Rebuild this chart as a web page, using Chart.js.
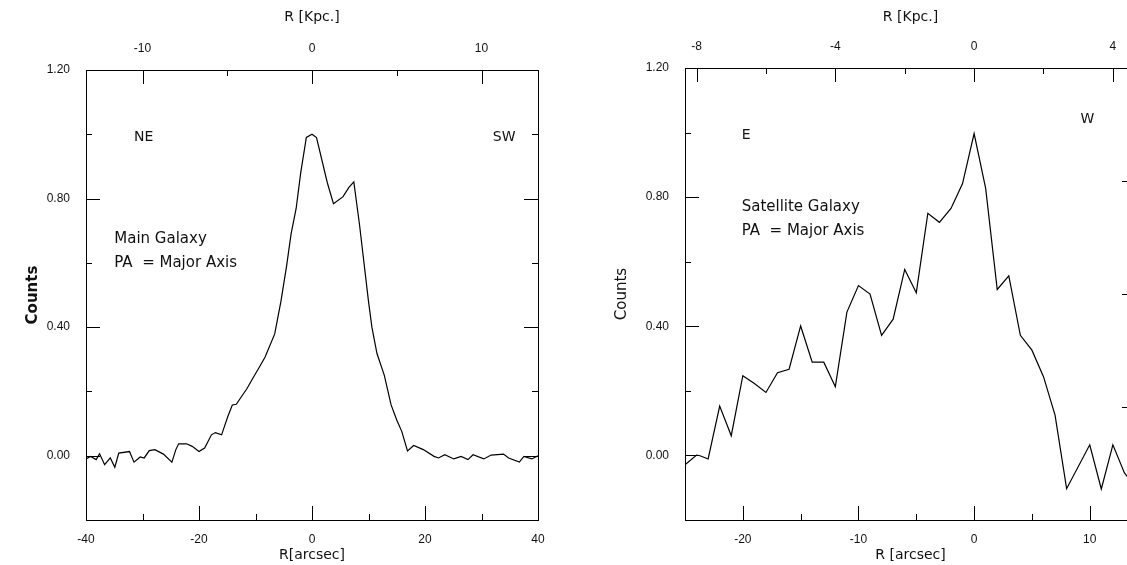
<!DOCTYPE html>
<html>
<head>
<meta charset="utf-8">
<script src="https://cdn.jsdelivr.net/npm/chart.js@4.4.1/dist/chart.umd.min.js"></script>
<style>
  html, body { margin: 0; padding: 0; background: #fff; overflow: hidden; width: 1127px; height: 565px; }
  .panel { position: absolute; top: 0; height: 565px; }
  #mainBox { left: 0; width: 560px; }
  #satBox { left: 580px; width: 600px; }
</style>
</head>
<body>
<div class="panel" id="mainBox"><canvas id="mainChart"></canvas></div>
<div class="panel" id="satBox"><canvas id="satChart"></canvas></div>
<script>
// main galaxy, cut along the major axis (R in arcsec, normalised counts)
const mainR = [-40, -39.2, -38.2, -37.6, -36.7, -35.7, -34.9, -34.2, -32.3, -31.5, -30.4, -29.7,
  -28.8, -27.8, -26.3, -24.8, -24.1, -23.6, -22.2, -21.2, -20.0, -19.0, -17.8, -17.1, -16.0,
  -14.9, -14.1, -13.4, -11.5, -10.5, -9.3, -8.3, -6.6, -5.5, -4.5, -3.7, -2.8, -2.0, -1.0,
  0, 0.8, 2.7, 3.8, 5.5, 6.5, 7.4, 8.4, 10.0, 10.6, 11.5, 12.8, 14.0, 15.0, 15.9, 16.9, 18.0,
  19.7, 21.6, 22.4, 23.5, 25.1, 26.4, 27.6, 28.5, 30.4, 31.7, 33.9, 34.8, 36.7, 37.5, 38.9, 40];
const mainCounts = [-0.01, -0.002, -0.012, 0.006, -0.028, -0.007, -0.036, 0.008, 0.013, -0.02, -0.004, -0.007,
  0.016, 0.019, 0.005, -0.02, 0.019, 0.037, 0.037, 0.029, 0.013, 0.024, 0.065, 0.072, 0.065,
  0.122, 0.158, 0.16, 0.209, 0.24, 0.276, 0.307, 0.379, 0.48, 0.59, 0.69, 0.77, 0.88, 0.99,
  1.0, 0.99, 0.85, 0.784, 0.806, 0.834, 0.852, 0.72, 0.48, 0.40, 0.318, 0.25, 0.158, 0.111, 0.075, 0.015, 0.032,
  0.019, -0.002, -0.007, 0.003, -0.01, -0.002, -0.012, 0.003, -0.01, 0.002, 0.005, -0.007, -0.02, -0.002, -0.01, 0.0];

// satellite galaxy, cut along its major axis
const satR = [-25, -24, -23.7, -23, -22, -21, -20, -19, -18, -17, -16, -15, -14, -13, -12, -11,
  -10, -9, -8, -7, -6, -5, -4, -3, -2, -1, 0, 1, 2, 3, 4, 5, 6, 7, 8, 10, 11, 12, 13, 14];
const satCounts = [-0.029, 0.001, -0.001, -0.011, 0.153, 0.061, 0.247, 0.223, 0.195, 0.256, 0.267, 0.401,
  0.289, 0.289, 0.213, 0.444, 0.526, 0.5, 0.372, 0.422, 0.576, 0.504, 0.75, 0.722, 0.765, 0.842,
  0.997, 0.827, 0.514, 0.556, 0.372, 0.326, 0.244, 0.125, -0.103, 0.033, -0.104, 0.033, -0.054, -0.1];

const arcsecPerKpc = 3.0;

// tick lists
const countTicks = [-0.2, 0, 0.2, 0.4, 0.6, 0.8, 1.0, 1.2];
const countLabels = [0, 0.4, 0.8, 1.2];
const countMajor = [-0.2, 0, 0.4, 0.8, 1.2];

const mainArcTicks = [-40, -30, -20, -10, 0, 10, 20, 30, 40];
const mainArcLabels = [-40, -20, 0, 20, 40];
const mainArcMajor = [-40, -20, 0, 20, 40];
const mainKpcTicks = [-10, -5, 0, 5, 10];
const mainKpcLabels = [-10, 0, 10];

const satArcTicks = [-25, -20, -15, -10, -5, 0, 5, 10];
const satArcLabels = [-20, -10, 0, 10];
const satArcMajor = [-25, -20, -10, 0, 10];
const satKpcTicks = [-8, -6, -4, -2, 0, 2, 4];
const satKpcLabels = [-8, -4, 0, 4];
const satRightTicks = [-0.2, 0.15, 0.5, 0.85, 1.2];

const tickFont = { family: 'Liberation Sans', size: 12 };
const titleFont = { family: 'DejaVu Sans', size: 14 };

function axis(o) {
  const horiz = o.position === 'top' || o.position === 'bottom';
  return {
    type: 'linear',
    position: o.position,
    min: o.min,
    max: o.max,
    afterBuildTicks: s => {
      s.ticks = o.ticks.map(v => ({ value: v, major: o.major.includes(v) }));
    },
    afterFit: s => {
      if (horiz) s.height = o.size; else s.width = o.size;
    },
    grid: { display: false },
    border: { display: true, color: '#000', width: 1 },
    ticks: {
      autoSkip: false,
      maxRotation: 0,
      padding: o.pad,
      color: '#111',
      font: tickFont,
      display: !!o.labels,
      callback: v => (o.labels && o.labels.includes(v)) ? o.fmt(v) : ''
    },
    title: o.title ? {
      display: true,
      text: o.title,
      color: '#111',
      font: o.titleFont || titleFont,
      padding: o.titlePad
    } : { display: false }
  };
}

// ticks drawn inward from every axis, long ones on majors
const inwardTicks = {
  id: 'inwardTicks',
  afterDraw(chart) {
    const { ctx, chartArea: a } = chart;
    ctx.save();
    ctx.strokeStyle = '#000';
    ctx.lineWidth = 1;
    Object.values(chart.scales).forEach(s => {
      s.ticks.forEach(t => {
        const len = t.major ? 14 : 6;
        const p = Math.round(s.getPixelForValue(t.value)) + 0.5;
        ctx.beginPath();
        if (s.position === 'bottom') { ctx.moveTo(p, a.bottom); ctx.lineTo(p, a.bottom - len); }
        if (s.position === 'top') { ctx.moveTo(p, a.top); ctx.lineTo(p, a.top + len); }
        if (s.position === 'left') { ctx.moveTo(a.left, p); ctx.lineTo(a.left + len, p); }
        if (s.position === 'right') { ctx.moveTo(a.right, p); ctx.lineTo(a.right - len, p); }
        ctx.stroke();
      });
    });
    ctx.restore();
  }
};

// free text inside the frame, placed in data units
const notes = {
  id: 'notes',
  afterDraw(chart, args, opts) {
    const { ctx, scales } = chart;
    ctx.save();
    ctx.fillStyle = '#111';
    ctx.textBaseline = 'middle';
    (opts.items || []).forEach(n => {
      ctx.font = n.font;
      ctx.fillText(n.text, scales.x.getPixelForValue(n.x), scales.y.getPixelForValue(n.y));
    });
    ctx.restore();
  }
};

function points(xs, ys) {
  return xs.map((x, i) => ({ x: x, y: ys[i] }));
}

const fmt2 = v => v.toFixed(2);
const fmt0 = v => String(v);
const noteFont = '15px "DejaVu Sans"';
const dirFont = '14px "DejaVu Sans"';

new Chart(document.getElementById('mainChart'), {
  type: 'line',
  data: {
    datasets: [{
      data: points(mainR, mainCounts),
      borderColor: '#000',
      borderWidth: 1.2,
      pointRadius: 0,
      tension: 0,
      fill: false
    }]
  },
  options: {
    responsive: true,
    maintainAspectRatio: false,
    animation: false,
    layout: { padding: 0 },
    plugins: {
      legend: { display: false },
      tooltip: { enabled: false },
      notes: {
        items: [
          { text: 'NE', x: -31.5, y: 0.99, font: dirFont },
          { text: 'SW', x: 32, y: 0.99, font: dirFont },
          { text: 'Main Galaxy', x: -35, y: 0.675, font: noteFont },
          { text: 'PA  = Major Axis', x: -35, y: 0.598, font: noteFont }
        ]
      }
    },
    scales: {
      x: axis({ position: 'bottom', min: -40, max: 40, ticks: mainArcTicks, labels: mainArcLabels,
        major: mainArcMajor, fmt: fmt0, size: 45, pad: 4, title: 'R[arcsec]', titlePad: { top: 0, bottom: 1 } }),
      xTop: axis({ position: 'top', min: -40 / arcsecPerKpc, max: 40 / arcsecPerKpc, ticks: mainKpcTicks,
        labels: mainKpcLabels, major: mainKpcLabels, fmt: fmt0, size: 70, pad: 6,
        title: 'R [Kpc.]', titlePad: { top: 9, bottom: 0 } }),
      y: axis({ position: 'left', min: -0.2, max: 1.2, ticks: countTicks, labels: countLabels,
        major: countMajor, fmt: fmt2, size: 86, pad: 8, title: 'Counts',
        titleFont: { family: 'DejaVu Sans', size: 15, weight: 'bold' }, titlePad: { top: 24, bottom: 0 } }),
      yRight: axis({ position: 'right', min: -0.2, max: 1.2, ticks: countTicks, major: countMajor, size: 22 })
    }
  },
  plugins: [inwardTicks, notes]
});

new Chart(document.getElementById('satChart'), {
  type: 'line',
  data: {
    datasets: [{
      data: points(satR, satCounts),
      borderColor: '#000',
      borderWidth: 1.2,
      pointRadius: 0,
      tension: 0,
      fill: false
    }]
  },
  options: {
    responsive: true,
    maintainAspectRatio: false,
    animation: false,
    layout: { padding: 0 },
    plugins: {
      legend: { display: false },
      tooltip: { enabled: false },
      notes: {
        items: [
          { text: 'E', x: -20.1, y: 0.99, font: dirFont },
          { text: 'W', x: 9.2, y: 1.04, font: dirFont },
          { text: 'Satellite Galaxy', x: -20.1, y: 0.77, font: noteFont },
          { text: 'PA  = Major Axis', x: -20.1, y: 0.695, font: noteFont }
        ]
      }
    },
    scales: {
      x: axis({ position: 'bottom', min: -25, max: 14, ticks: satArcTicks, labels: satArcLabels,
        major: satArcMajor, fmt: fmt0, size: 45, pad: 4, title: 'R [arcsec]', titlePad: { top: 0, bottom: 1 } }),
      xTop: axis({ position: 'top', min: -25 / arcsecPerKpc, max: 14 / arcsecPerKpc, ticks: satKpcTicks,
        labels: satKpcLabels, major: satKpcLabels, fmt: fmt0, size: 68, pad: 6,
        title: 'R [Kpc.]', titlePad: { top: 9, bottom: 0 } }),
      y: axis({ position: 'left', min: -0.2, max: 1.2, ticks: countTicks, labels: countLabels,
        major: countMajor, fmt: fmt2, size: 105, pad: 8, title: 'Counts',
        titleFont: { family: 'DejaVu Sans', size: 15 }, titlePad: { top: 33, bottom: 0 } }),
      yRight: axis({ position: 'right', min: -0.2, max: 1.2, ticks: satRightTicks, major: satRightTicks, size: 44 })
    }
  },
  plugins: [inwardTicks, notes]
});
</script>
</body>
</html>
